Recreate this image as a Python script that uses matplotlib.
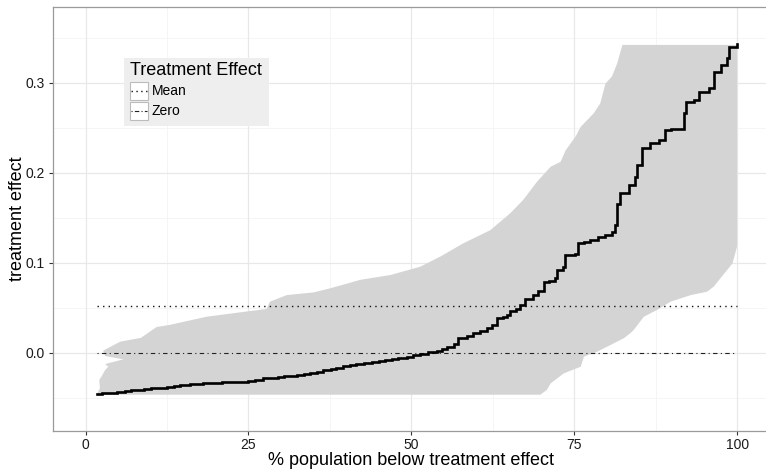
import matplotlib
matplotlib.use("Agg")
import matplotlib.pyplot as plt
import numpy as np
from matplotlib.patches import Rectangle
from matplotlib.lines import Line2D

plt.rcParams['font.family'] = ['Liberation Sans', 'DejaVu Sans']

# ---- data ----
# step curve: sorted treatment effect vs % population
curve_x = [1.7, 2.5, 3.5, 4.8, 6, 7, 7.9, 9, 10, 11, 12.5, 13.5, 14.5, 16, 17, 18, 19,
           20.1, 21, 22, 23, 24.2, 25, 26, 27.3, 28.5, 29.5, 30.5, 31.4, 32.5, 33.5,
           34.5, 35.5, 36.5, 37.6, 38.5, 39.5, 40.6, 41.5, 42.7, 44, 45, 46, 47, 48,
           49.3, 50.3, 51.4, 52.5, 53.9, 54.7, 55.4, 56.5, 57.2, 58.5, 59.5, 60.5, 61.6,
           62.4, 63.1, 64, 64.7, 65.2, 66, 66.7, 67.5, 68.7, 69.5, 70.3, 71.2, 72.1,
           72.3, 73.3, 73.6, 75.1, 75.6, 76.5, 77.4, 78.7, 79.8, 80.8, 81.3, 81.6, 82.1,
           83.4, 84.4, 84.7, 85.4, 86.7, 88, 89, 89.8, 91.8, 92.1, 93.4, 94.1, 95.7,
           96.4, 97.5, 98.5, 98.7, 100]
curve_y = [-0.0459, -0.0453, -0.0446, -0.0437, -0.0428, -0.0420, -0.0414, -0.0405,
           -0.0397, -0.0389, -0.0378, -0.0370, -0.0363, -0.0351, -0.0346, -0.0341,
           -0.0337, -0.0333, -0.0330, -0.0327, -0.0325, -0.0322, -0.0313, -0.0300,
           -0.0285, -0.0278, -0.0270, -0.0264, -0.0259, -0.0248, -0.0235, -0.0222,
           -0.0211, -0.0196, -0.0181, -0.0168, -0.0152, -0.0137, -0.0127, -0.0118,
           -0.0103, -0.0092, -0.0080, -0.0069, -0.0058, -0.0044, -0.0030, -0.0014,
           0.0002, 0.0022, 0.0045, 0.0067, 0.0100, 0.0160, 0.0190, 0.0216, 0.0240,
           0.0270, 0.0310, 0.0380, 0.0400, 0.0420, 0.0467, 0.0490, 0.0530, 0.0593,
           0.0640, 0.0680, 0.0780, 0.0800, 0.0827, 0.0920, 0.0956, 0.1086, 0.1100,
           0.1220, 0.1235, 0.1250, 0.1290, 0.1310, 0.1344, 0.1420, 0.1650, 0.1770,
           0.1860, 0.1956, 0.2086, 0.2270, 0.2327, 0.2360, 0.2474, 0.2490, 0.2660,
           0.2790, 0.2808, 0.2900, 0.2940, 0.3120, 0.3200, 0.3270, 0.3400, 0.3430]

# confidence band: upper edge (left to right, incl. jagged left boundary)
band_upper_x = [1.7, 2.2, 2.1, 2.5, 3.0, 3.5, 3.0, 5.8, 3.0, 2.7, 5.3, 8.5, 10.9, 13,
                18.6, 25, 27.8, 28.3, 30.9, 35, 37.6, 42.2, 46.8, 51.4, 54.5, 58, 62.1,
                65.2, 67.2, 69.3, 71.4, 72.9, 73.7, 75.2, 76, 78, 79, 79.8, 80.8, 81.6,
                82.4, 100]
band_upper_y = [-0.0467, -0.0396, -0.0303, -0.0259, -0.0192, -0.0156, -0.0126, -0.0074,
                -0.0037, 0.0022, 0.0122, 0.0165, 0.0285, 0.0310, 0.0400, 0.0460, 0.0486,
                0.0567, 0.0640, 0.0670, 0.0716, 0.0810, 0.0863, 0.0956, 0.1070, 0.1216,
                0.1360, 0.1550, 0.1700, 0.1900, 0.2067, 0.2120, 0.2250, 0.2400, 0.2510,
                0.2660, 0.2770, 0.2990, 0.3070, 0.3215, 0.3420, 0.3420]
# lower edge (left to right)
band_lower_x = [1.7, 69.8, 70.8, 71.4, 73.4, 76.0, 76.5, 78.5, 82.6, 83.6, 84.1, 85.7,
                87.7, 89.8, 92.9, 95.4, 96.4, 99.3, 100]
band_lower_y = [-0.0467, -0.0467, -0.0414, -0.0340, -0.0230, -0.0156, -0.0044, 0.0010,
                0.0160, 0.0215, 0.0250, 0.0400, 0.0474, 0.0567, 0.0640, 0.0678, 0.0733,
                0.0993, 0.1180]

mean_effect = 0.0519
zero_effect = 0.0
ref_x_range = [1.7, 100]

x_ticks = [0, 25, 50, 75, 100]
y_ticks = [0.0, 0.1, 0.2, 0.3]
y_ticklabels = ["0.0", "0.1", "0.2", "0.3"]
legend_title = "Treatment Effect"
legend_labels = ["Mean", "Zero"]

# ---- figure ----
W, H = 766, 470
fig = plt.figure(figsize=(W / 100, H / 100), dpi=100)
ax_left, ax_top, ax_bottom = 53, 7.3, 430.7
ax_w = 110 * 6.515
ax = fig.add_axes([ax_left / W, 1 - ax_bottom / H, ax_w / W, (ax_bottom - ax_top) / H])
ax.set_xlim(-5, 105)
ax.set_ylim(-0.0867, 0.3838)

# grid
for v in [12.5, 37.5, 62.5, 87.5]:
    ax.axvline(v, color='#f4f4f4', lw=0.6, zorder=0)
for v in [-0.05, 0.05, 0.15, 0.25, 0.35]:
    ax.axhline(v, color='#f4f4f4', lw=0.6, zorder=0)
for v in x_ticks:
    ax.axvline(v, color='#e8e8e8', lw=0.9, zorder=0)
for v in y_ticks:
    ax.axhline(v, color='#e8e8e8', lw=0.9, zorder=0)

# band
poly_x = np.concatenate([band_upper_x, band_lower_x[::-1]])
poly_y = np.concatenate([band_upper_y, band_lower_y[::-1]])
ax.fill(poly_x, poly_y, color='#d4d4d4', lw=0, zorder=1)

# reference lines
ax.plot(ref_x_range, [mean_effect, mean_effect], color='#111111', lw=1.0,
        linestyle=(0, (1, 3.0)), zorder=2)
ax.plot(ref_x_range, [zero_effect, zero_effect], color='#222222', lw=0.8,
        linestyle=(0, (1, 3, 4, 3)), zorder=2)

# curve
ax.step(curve_x, curve_y, where='post', color='black', lw=1.9, zorder=3,
        solid_joinstyle='miter')

# axes styling
for s in ax.spines.values():
    s.set_color('#9a9a9a')
    s.set_linewidth(0.9)
ax.set_xticks(x_ticks)
ax.set_xticklabels([str(t) for t in x_ticks])
ax.set_yticks(y_ticks)
ax.set_yticklabels(y_ticklabels)
ax.tick_params(axis='both', direction='out', length=3, width=0.8, color='#333333',
               labelsize=10, labelcolor='#1a1a1a')
ax.tick_params(axis='x', pad=2.5)
ax.tick_params(axis='y', pad=3)
ax.set_xlabel("% population below treatment effect", fontsize=13, labelpad=0)
ax.set_ylabel("treatment effect", fontsize=13, labelpad=-0.5)

# legend drawn manually in pixel coordinates
def fx(px):
    return px / W

def fy(py):
    return 1 - py / H

fig.add_artist(Rectangle((fx(124), fy(126)), fx(269) - fx(124), fy(58) - fy(126),
                         transform=fig.transFigure, facecolor='#eeeeee', edgecolor='none',
                         zorder=5))
fig.text(fx(129.5), fy(70.5), legend_title, fontsize=13, ha='left', va='center',
         zorder=6)
key_tops = [81.7, 101.7]
styles = [dict(lw=1.0, linestyle=(0, (1, 2.5)), color='#111111'),
          dict(lw=0.8, linestyle=(0, (1, 2, 4, 2)), color='#222222')]
for top, lab, st in zip(key_tops, legend_labels, styles):
    fig.add_artist(Rectangle((fx(129.5), fy(top + 18.5)), fx(148) - fx(129.5),
                             fy(top) - fy(top + 18.5), transform=fig.transFigure,
                             facecolor='white', edgecolor='#bbbbbb', lw=0.8, zorder=6))
    yc = top + 9.25
    fig.add_artist(Line2D([fx(131), fx(146.5)], [fy(yc), fy(yc)],
                          transform=fig.transFigure, zorder=7, **st))
    fig.text(fx(151.5), fy(yc), lab, fontsize=10, ha='left', va='center', zorder=7)

fig.savefig("out.png", dpi=100)
